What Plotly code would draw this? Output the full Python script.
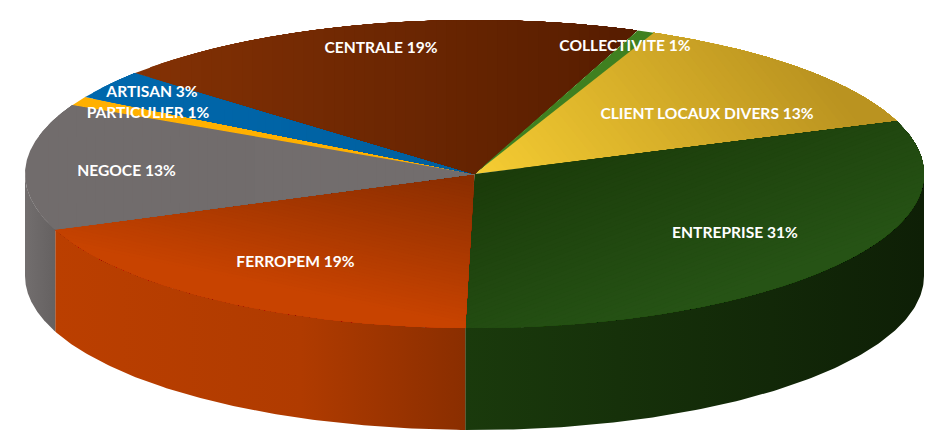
import numpy as np
import plotly.graph_objects as go

# ---- data ----
categories = ["CLIENT LOCAUX DIVERS", "ENTREPRISE", "FERROPEM", "NEGOCE",
              "PARTICULIER", "ARTISAN", "CENTRALE", "COLLECTIVITE"]
shares = [12.9, 30.9, 18.8, 13.26, 0.94, 3.05, 19.5, 0.65]
labels = ["13%", "31%", "19%", "13%", "1%", "3%", "19%", "1%"]

# ---- styles: top face linear gradient (direction, projected start, projected stop, colours) ----
top_styles = [
    ((1.0, -0.8), 344, 760, "#f4cb32", "#ba9320"),
    ((0.35, 0.94), 337, 530, "#1b3c0a", "#265315"),
    ((-0.2, 0.98), 82, 225, "#8c2e00", "#c84300"),
    ((1.0, 0.0), 30, 470, "#716c6c", "#726d6d"),
    ((1.0, 0.0), 70, 470, "#ffb000", "#ffb000"),
    ((1.0, 0.0), 85, 470, "#0068ad", "#005f9e"),
    ((1.0, 0.0), 140, 620, "#833104", "#571d00"),
    ((1.0, 0.0), 475, 650, "#3f8020", "#3f8020"),
]
wall_styles = [
    [[0, "#a07a1a"], [1, "#a07a1a"]],
    [[0, "#1a3a0c"], [1, "#0e1f06"]],
    [[0, "#bb3f00"], [0.6, "#b03b00"], [1, "#8a2e00"]],
    [[0, "#726e6e"], [1, "#656161"]],
    [[0, "#b08000"], [1, "#b08000"]],
    [[0, "#004a80"], [1, "#004a80"]],
    [[0, "#4a1a00"], [1, "#4a1a00"]],
    [[0, "#2c5a16"], [1, "#2c5a16"]],
]
label_pos = [(707, 115), (735, 234), (295.5, 263), (126.5, 172.5),
             (148, 114), (152, 93), (381, 49), (625, 47.5)]

# ---- geometry of the tilted disc, in page pixels ----
CX, CY, RX, RY, DEPTH = 474.5, 174.0, 449.5, 154.0, 102.0
START = 23.5  # clockwise from 12 o'clock, degrees
GRADIENT_STEPS = 48


def ex(a):
    return CX + RX * np.sin(np.radians(a))


def ey(a):
    return CY - RY * np.cos(np.radians(a))


def hexrgb(c):
    return np.array([int(c[k:k + 2], 16) for k in (1, 3, 5)], dtype=float)


def clip_halfplane(pts, d, thr):
    """Keep the part of polygon pts whose projection on d is >= thr."""
    out = []
    proj = pts @ np.asarray(d)
    n = len(pts)
    for i in range(n):
        j = (i + 1) % n
        pi, pj = proj[i], proj[j]
        if pi >= thr:
            out.append(pts[i])
        if (pi >= thr) != (pj >= thr):
            s = (thr - pi) / (pj - pi)
            out.append(pts[i] + s * (pts[j] - pts[i]))
    return np.array(out) if out else None


fig = go.Figure()
edges = START + np.concatenate([[0], np.cumsum(shares)]) * 3.6 / (sum(shares) / 100)

# side walls: only the front half of the rim is visible
for i, cat in enumerate(categories):
    a0, a1 = edges[i], edges[i + 1]
    lo, hi = max(a0, 90), min(a1, 270)
    if hi <= lo:
        continue
    t = np.linspace(lo, hi, 120)
    xs = np.concatenate([ex(t), ex(t[::-1])])
    ys = np.concatenate([ey(t), ey(t[::-1]) + DEPTH])
    fig.add_trace(go.Scatter(
        x=xs, y=ys, mode="lines", fill="toself", line=dict(width=0),
        fillgradient=dict(type="horizontal", start=float(xs.min()), stop=float(xs.max()),
                          colorscale=wall_styles[i]),
        hoverinfo="skip", showlegend=False, name=cat))

# top face: each wedge is repainted by shrinking half-planes to get a slanted gradient
for i, cat in enumerate(categories):
    t = np.linspace(edges[i], edges[i + 1], 160)
    poly = np.column_stack([np.concatenate([[CX], ex(t)]), np.concatenate([[CY], ey(t)])])
    d, p0, p1, c0, c1 = top_styles[i]
    c0, c1 = hexrgb(c0), hexrgb(c1)
    same = np.allclose(c0, c1)
    steps = 1 if same else GRADIENT_STEPS
    for k in range(steps):
        f = k / max(steps - 1, 1)
        thr = p0 + f * (p1 - p0)
        part = poly if k == 0 else clip_halfplane(poly, d, thr)
        if part is None or len(part) < 3:
            continue
        col = c0 + f * (c1 - c0)
        fig.add_trace(go.Scatter(
            x=np.append(part[:, 0], part[0, 0]), y=np.append(part[:, 1], part[0, 1]),
            mode="lines", fill="toself", line=dict(width=0),
            fillcolor=f"rgb({col[0]:.0f},{col[1]:.0f},{col[2]:.0f})",
            hoverinfo="skip", showlegend=False, name=cat))

fig.add_trace(go.Scatter(
    x=[p[0] for p in label_pos], y=[p[1] for p in label_pos], mode="text",
    text=[f"<b>{c} {l}</b>" for c, l in zip(categories, labels)],
    textposition="middle center",
    textfont=dict(family="Lato", size=15.6, color="white"),
    hoverinfo="skip", showlegend=False))

fig.update_layout(
    width=938, height=437, margin=dict(l=0, r=0, t=0, b=0),
    paper_bgcolor="white", plot_bgcolor="white",
    xaxis=dict(range=[0, 938], visible=False, fixedrange=True),
    yaxis=dict(range=[437, 0], visible=False, fixedrange=True),
)
fig.write_html("out.html", config=dict(displayModeBar=False),
               post_script="document.body.style.margin='0';")
